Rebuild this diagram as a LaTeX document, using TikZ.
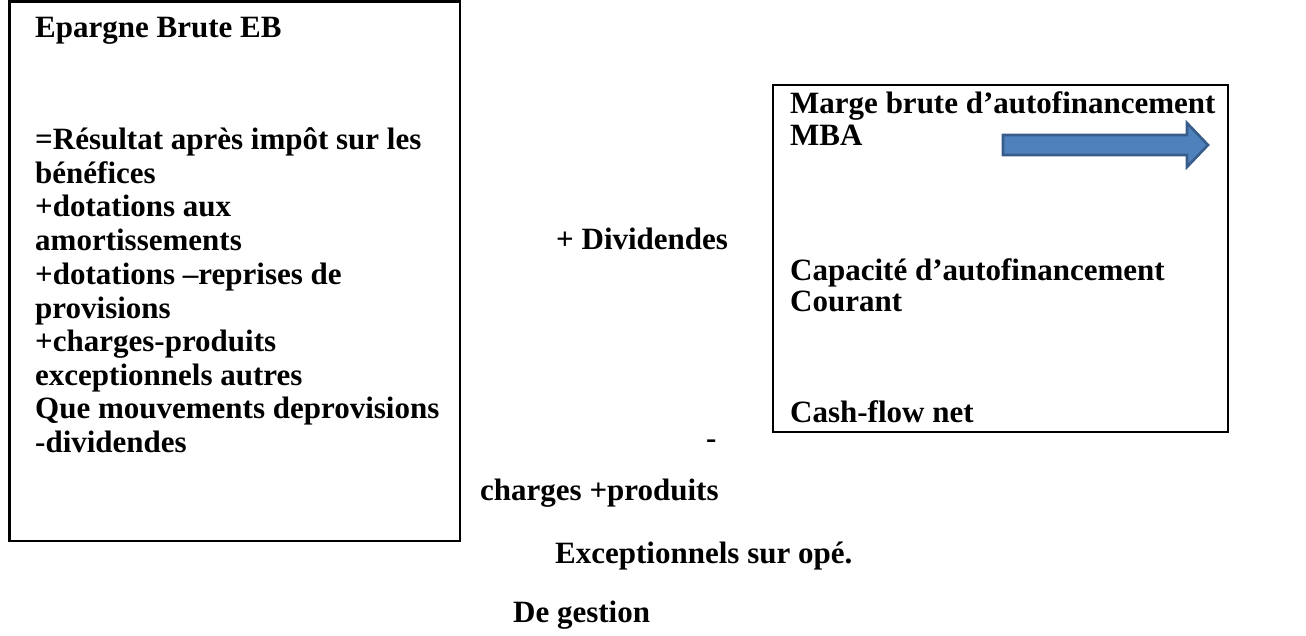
\documentclass[tikz,border=0pt]{standalone}
\usepackage{fontspec}
\setmainfont{Liberation Serif}
\definecolor{arrowfill}{HTML}{4F81BD}
\definecolor{arrowline}{HTML}{385D8A}
\begin{document}
\begin{tikzpicture}[x=1pt,y=-1pt,
  txt/.style={anchor=base west, inner sep=0pt, font=\bfseries\fontsize{31}{36}\selectfont},
  frame/.style={draw=black, line width=2.4pt}]
\useasboundingbox (0,0) rectangle (1306,636);

% left box: Epargne Brute
\draw[frame] (9.5,1.5) rectangle (460,541);
\node[txt] (eb)  at (35,38)  {Epargne Brute EB};
\node[txt] (l1)  at (35,150) {=Résultat après impôt sur les};
\node[txt] (l2)  at (35,184) {bénéfices};
\node[txt] (l3)  at (35,217) {+dotations aux};
\node[txt] (l4)  at (35,251) {amortissements};
\node[txt] (l5)  at (35,284) {+dotations –reprises de};
\node[txt] (l6)  at (35,318) {provisions};
\node[txt] (l7)  at (35,351) {+charges-produits};
\node[txt] (l8)  at (35,385) {exceptionnels autres};
\node[txt] (l9)  at (35,418) {Que mouvements deprovisions};
\node[txt] (l10) at (35,452) {-dividendes};

% right box: MBA, CAF, cash-flow
\draw[frame] (773,85) rectangle (1228,432);
\node[txt] (mba1) at (790,114) {Marge brute d’autofinancement};
\node[txt] (mba2) at (790,146) {MBA};
\node[txt] (caf1) at (790,280) {Capacité d’autofinancement};
\node[txt] (caf2) at (790,312) {Courant};
\node[txt] (cfn)  at (790,422) {Cash-flow net};

% block arrow
\draw[fill=arrowfill, draw=arrowline, line width=2.6pt, line join=miter]
  (1003,135) -- (1187,135) -- (1187,123) -- (1208,145) -- (1187,167)
  -- (1187,155) -- (1003,155) -- cycle;

% middle labels
\node[txt] (div)  at (556,250) {+ Dividendes};
\node[txt] (dash) at (706,448) {-};
\node[txt] (chp)  at (480,500) {charges +produits};
\node[txt] (exc)  at (555,563) {Exceptionnels sur opé.};
\node[txt] (gest) at (513,622) {De gestion};
\end{tikzpicture}
\end{document}
